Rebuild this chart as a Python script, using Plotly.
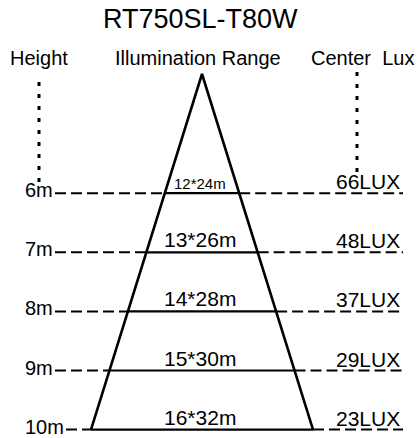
import plotly.graph_objects as go

# ---- data ----
heights = [6, 7, 8, 9, 10]
height_labels = ["6m", "7m", "8m", "9m", "10m"]
range_labels = ["12*24m", "13*26m", "14*28m", "15*30m", "16*32m"]
lux_values = [66, 48, 37, 29, 23]
chart_title = "RT750SL-T80W"
col_headers = ["Height", "Illumination Range", "Center  Lux"]

# ---- geometry (layout) ----
W, H = 417, 438
PX_PER_M = 59.1
Y_TOP = 2.731                  # height value at top edge of figure
Y_BOT = Y_TOP + H / PX_PER_M   # height value at bottom edge


def h_at(px):
    return Y_TOP + px / PX_PER_M


CX = 202
APEX_H = h_at(74)
BASE_HALF = 111
H_MAX = max(heights)
RIGHT_END = 403
FONT = "Liberation Sans, Arial, sans-serif"


def half_width(h):
    return BASE_HALF * (h - APEX_H) / (H_MAX - APEX_H)


fig = go.Figure()
line_kw = dict(mode="lines", hoverinfo="skip", showlegend=False)

# triangle (beam)
fig.add_trace(go.Scatter(
    x=[CX - BASE_HALF, CX, CX + BASE_HALF],
    y=[H_MAX, APEX_H, H_MAX],
    line=dict(color="black", width=2.6), **line_kw))

# level lines
for h, lab in zip(heights, height_labels):
    hw = half_width(h)
    x_start = 27 + 11 * len(lab) + 6
    fig.add_trace(go.Scatter(x=[x_start, CX - hw], y=[h, h],
                             line=dict(color="black", width=2, dash="11px,5px"), **line_kw))
    fig.add_trace(go.Scatter(x=[CX + hw, RIGHT_END], y=[h, h],
                             line=dict(color="black", width=2, dash="11px,5px"), **line_kw))
    fig.add_trace(go.Scatter(x=[CX - hw, CX + hw], y=[h, h],
                             line=dict(color="black", width=2.2), **line_kw))

# dotted guides
fig.add_trace(go.Scatter(x=[39, 39], y=[h_at(82), h_at(186)],
                         line=dict(color="black", width=3, dash="4px,8px"), **line_kw))
fig.add_trace(go.Scatter(x=[357, 357], y=[h_at(72), h_at(174)],
                         line=dict(color="black", width=3, dash="4px,8px"), **line_kw))

ann = []
ann.append(dict(x=200, y=h_at(19), text=chart_title, showarrow=False,
                font=dict(family=FONT, size=27, color="black"),
                xanchor="center", yanchor="middle"))
for x, txt in zip([39, 198, 362], col_headers):
    ann.append(dict(x=x, y=h_at(58), text=txt, showarrow=False,
                    font=dict(family=FONT, size=20, color="black"),
                    xanchor="center", yanchor="middle"))

for i, (h, lab, rl, lx) in enumerate(zip(heights, height_labels, range_labels, lux_values)):
    ann.append(dict(x=24, y=h, text=lab, showarrow=False, borderpad=0,
                    font=dict(family=FONT, size=20, color="black"),
                    xanchor="left", yanchor="middle", yshift=3))
    ann.append(dict(x=200, y=h, text=rl, showarrow=False,
                    font=dict(family=FONT, size=15 if i == 0 else 21, color="black"),
                    xanchor="center", yanchor="bottom", yshift=-1))
    ann.append(dict(x=402, y=h, text=f"{lx}LUX", showarrow=False,
                    font=dict(family=FONT, size=21, color="black"),
                    xanchor="right", yanchor="bottom", yshift=-2))

fig.update_layout(
    width=W, height=H,
    margin=dict(l=0, r=0, t=0, b=0),
    paper_bgcolor="white", plot_bgcolor="white",
    showlegend=False,
    annotations=ann,
    xaxis=dict(range=[0, W], visible=False, fixedrange=True),
    yaxis=dict(range=[Y_BOT, Y_TOP], visible=False, fixedrange=True),
)

fig.write_html("out.html", config={"displayModeBar": False},
               post_script="document.body.style.margin='0';document.body.style.overflow='hidden';")
